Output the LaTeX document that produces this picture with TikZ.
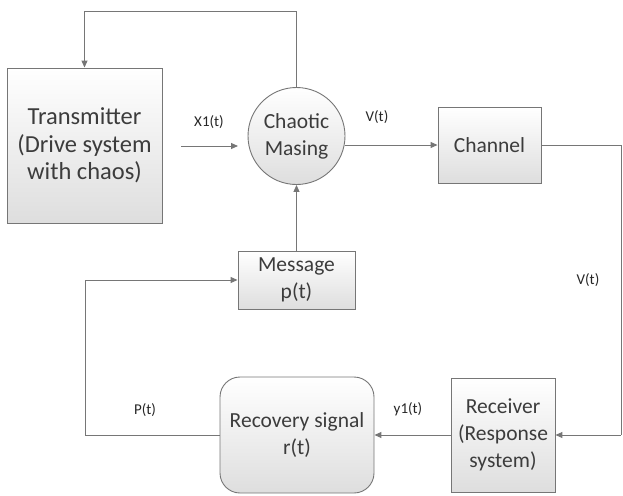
\documentclass[tikz,border=0pt]{standalone}
\usepackage{fontspec}
\setmainfont{Carlito}
\usetikzlibrary{arrows.meta}
\definecolor{linegray}{RGB}{118,118,118}
\definecolor{textgray}{RGB}{60,60,60}
\tikzset{
  block/.style={draw=linegray, line width=0.9pt, top color=white, bottom color=black!13,
    inner sep=0pt, align=center, text=textgray, font=\fontsize{21.5}{27}\selectfont},
  sig/.style={text=black!85, font=\fontsize{15}{18}\selectfont},
  wire/.style={draw=linegray, line width=1pt},
  flow/.style={wire, -{Triangle[length=7pt,width=6pt]}}
}
\begin{document}
\begin{tikzpicture}[x=1pt,y=-1pt]
\useasboundingbox (0,0) rectangle (623,495);
\node [block, minimum width=155, minimum height=155, font=\fontsize{24.5}{27.5}\selectfont] (tx) at (84.5,145.5) {Transmitter\\(Drive system\\with chaos)};
\node [block, circle, minimum size=97] (chaos) at (296.5,136) {Chaotic\\Masing};
\node [block, minimum width=103, minimum height=76] (chan) at (489.5,145) {Channel};
\node [block, minimum width=117, minimum height=58] (msg) at (296.5,280) {Message\\p(t)};
\node [block, rounded corners=20, minimum width=154, minimum height=116] (rec) at (297,435) {Recovery signal\\r(t)};
\node [block, minimum width=104, minimum height=114] (rx) at (503,435) {Receiver\\(Response\\system)};
\node [sig] (lx) at (209,122) {X1(t)};
\node [sig] (lv) at (377,117) {V(t)};
\node [sig] (lvr) at (588,280) {V(t)};
\node [sig] (ly) at (408,409) {y1(t)};
\node [sig] (lp) at (145,410) {P(t)};
\coordinate (fb) at (84.5,12);
\coordinate (xa) at (181,146);
\coordinate (xb) at (238,146);
\coordinate (rt) at (621,145);
\coordinate (rb) at (621,435);
\coordinate (pl) at (85,435);
\draw [flow] (chaos.north) |- (fb) -- (tx.north);
\draw [flow] (xa) -- (xb);
\draw [flow] (chaos.east |- chan.west) -- (chan.west);
\draw [wire] (chan.east) -- (rt) -- (rb);
\draw [flow] (rb) -- (rx.east);
\draw [flow] (rx.west) -- (rec.east);
\draw [flow] (rec.west) -- (pl) |- (msg.west);
\draw [flow] (msg.north) -- (chaos.south);
\end{tikzpicture}
\end{document}
